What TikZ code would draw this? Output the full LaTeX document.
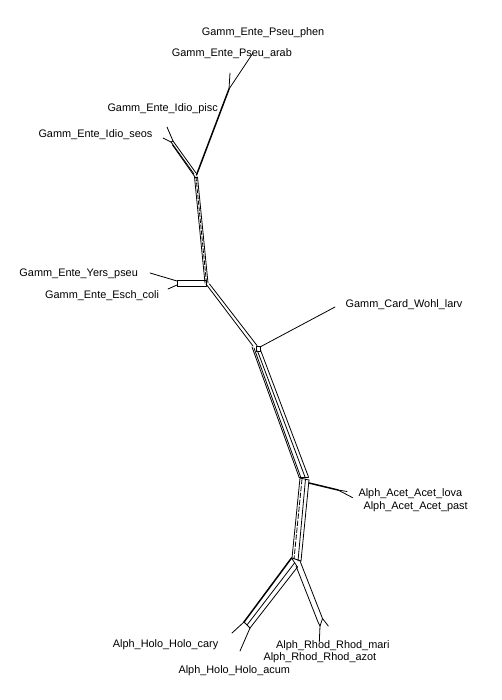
\documentclass[tikz,border=0pt]{standalone}
\usepackage{fontspec}
\setmainfont{Liberation Sans}
\begin{document}
\begin{tikzpicture}[x=1pt,y=-1pt,
  e/.style={line width=0.8pt,line cap=round,line join=round},
  ethick/.style={line width=1.5pt,line cap=round},
  lab/.style={anchor=base west,inner sep=0pt,font=\fontsize{10.9}{12}\selectfont}]
\useasboundingbox (0,0) rectangle (502,700);

% labels
\node[lab] (phen) at (201.7,35.7) {Gamm\_Ente\_Pseu\_phen};
\node[lab] (arab) at (171.7,56.3) {Gamm\_Ente\_Pseu\_arab};
\node[lab] (pisc) at (107.3,111.3) {Gamm\_Ente\_Idio\_pisc};
\node[lab] (seos) at (38.3,137.3) {Gamm\_Ente\_Idio\_seos};
\node[lab] (yers) at (19.3,276.7) {Gamm\_Ente\_Yers\_pseu};
\node[lab] (esch) at (45,298) {Gamm\_Ente\_Esch\_coli};
\node[lab] (wohl) at (345.5,307) {Gamm\_Card\_Wohl\_larv};
\node[lab] (lova) at (358.3,496.7) {Alph\_Acet\_Acet\_lova};
\node[lab] (past) at (363.3,509.7) {Alph\_Acet\_Acet\_past};
\node[lab] (cary) at (112.7,647.3) {Alph\_Holo\_Holo\_cary};
\node[lab] (mari) at (276,648) {Alph\_Rhod\_Rhod\_mari};
\node[lab] (azot) at (263.3,660) {Alph\_Rhod\_Rhod\_azot};
\node[lab] (acum) at (178.3,673.3) {Alph\_Holo\_Holo\_acum};

% coordinates
\coordinate (pA) at (229,89);
\coordinate (lphen) at (253,53);
\coordinate (larab) at (230,73);
\coordinate (B) at (196.5,175);

% Pseudomonas part
\draw[e] (pA) -- (lphen);
\draw[e] (pA) -- (larab);
\draw[ethick] (pA) -- (B);

% Idio seos bundle
\coordinate (s1a) at (171,142); \coordinate (s1b) at (194,174);
\coordinate (s2a) at (173,141); \coordinate (s2b) at (196,173);
\coordinate (s3a) at (172.5,145); \coordinate (s3b) at (195,177);
\draw[e] (s1a) -- (s1b);
\draw[e] (s2a) -- (s2b);
\draw[e] (s3a) -- (s3b);
\coordinate (lseos1) at (167,127);
\coordinate (lseos2) at (163,138);
\draw[e] (s2a) -- (lseos1);
\draw[e] (s1a) -- (lseos2);
\draw[e] (s1a) -- (s2a);

% trunk B-D
\coordinate (t1a) at (194.5,177); \coordinate (t1b) at (205,283);
\coordinate (t2a) at (197.5,177); \coordinate (t2b) at (208,283);
\coordinate (t3a) at (196,177); \coordinate (t3b) at (206.5,283);
\draw[e] (t1a) -- (t1b);
\draw[e] (t2a) -- (t2b);
\draw[e,dash pattern=on 4pt off 2pt] (t3a) -- (t3b);
\draw[e] (t1a) -- (t2a);

% Yers / Esch box
\coordinate (ybl) at (177,280);
\coordinate (ybr) at (206,286);
\draw[e] (ybl) rectangle (ybr);
\coordinate (yl) at (177,281);
\coordinate (el) at (177,285);
\coordinate (lyers) at (150,273);
\coordinate (lesch) at (168,289);
\draw[e] (yl) -- (lyers);
\draw[e] (el) -- (lesch);

% D-E
\coordinate (d1a) at (206,284); \coordinate (d1b) at (253,346);
\coordinate (d2a) at (209.5,284); \coordinate (d2b) at (257,345.5);
\draw[e] (d1a) -- (d1b);
\draw[e] (d2a) -- (d2b);

% E box and Wohl
\coordinate (ebl) at (256,346);
\coordinate (ebr) at (260.5,351);
\draw[e] (ebl) rectangle (ebr);
\coordinate (ew) at (260,347);
\coordinate (lwohl) at (335,307);
\draw[e] (ew) -- (lwohl);

% E-F bundle
\coordinate (f1a) at (252,347); \coordinate (f1b) at (299,477);
\coordinate (f2a) at (254,348); \coordinate (f2b) at (301,478);
\coordinate (f3a) at (257.5,351); \coordinate (f3b) at (305,477);
\coordinate (f4a) at (260.5,350); \coordinate (f4b) at (308.5,477);
\draw[e] (f1a) -- (f1b);
\draw[e] (f2a) -- (f2b);
\draw[e] (f3a) -- (f3b);
\draw[e] (f4a) -- (f4b);
\draw[e] (f1b) -- (f4b);

% Acet
\coordinate (ac0) at (309,483);
\coordinate (acG) at (338,490);
\coordinate (llova) at (347,491.5);
\coordinate (lpast) at (352.7,497.7);
\draw[ethick] (ac0) -- (acG);
\draw[e] (acG) -- (llova);
\draw[e] (acG) -- (lpast);

% F-H bundle
\coordinate (h1a) at (300,478); \coordinate (h1b) at (292,558);
\coordinate (h2a) at (302,479); \coordinate (h2b) at (294,559);
\coordinate (h3a) at (305.5,479); \coordinate (h3b) at (298,561);
\coordinate (h4a) at (309,480); \coordinate (h4b) at (301,561);
\draw[e] (h1a) -- (h1b);
\draw[e,dash pattern=on 5pt off 2pt] (h2a) -- (h2b);
\draw[e] (h3a) -- (h3b);
\draw[e] (h4a) -- (h4b);
\draw[e] (h1a) -- (h4a);
\draw[e] (h1b) -- (h4b);

% H - Holo bundle
\coordinate (o1a) at (291.5,558); \coordinate (o1b) at (244,622);
\coordinate (o2a) at (294.5,563); \coordinate (o2b) at (247,625);
\coordinate (o3a) at (297.5,567); \coordinate (o3b) at (250,628);
\draw[ethick] (o1a) -- (o1b);
\draw[e] (o2a) -- (o2b);
\draw[e] (o3a) -- (o3b);
\draw[e] (o1b) -- (o3b);
\draw[e] (o1a) -- (o3a);
\coordinate (lcary) at (232,633);
\coordinate (lacum) at (240,651);
\draw[e] (o1b) -- (lcary);
\draw[e] (o3b) -- (lacum);

% H - Rhod bundle
\coordinate (r1a) at (296,566); \coordinate (r1b) at (318,622);
\coordinate (r2a) at (300,561); \coordinate (r2b) at (322.5,618.5);
\coordinate (rV) at (320,626);
\coordinate (lmari) at (319.3,642);
\coordinate (lazot) at (328.3,626);
\draw[e] (r1a) -- (r1b) -- (rV);
\draw[e] (r2a) -- (r2b) -- (rV);
\draw[e] (rV) -- (lmari);
\draw[e] (r2b) -- (lazot);
\end{tikzpicture}
\end{document}
